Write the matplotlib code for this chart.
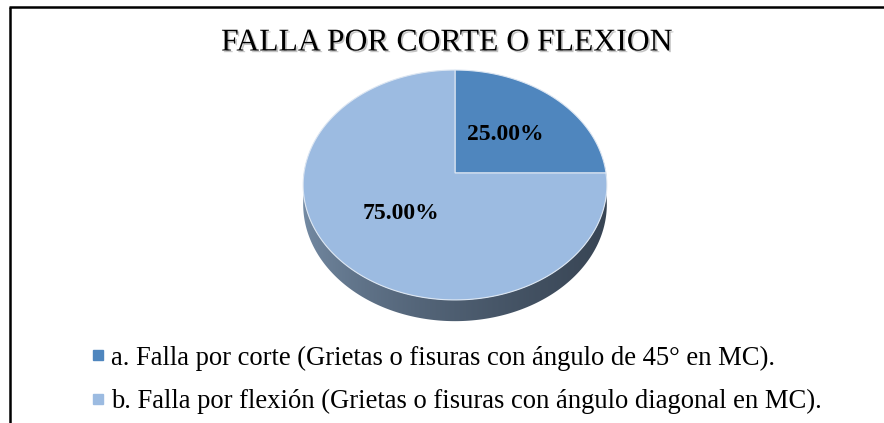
import numpy as np
import matplotlib
matplotlib.use("Agg")
import matplotlib.pyplot as plt
import matplotlib.patheffects as pe
from matplotlib.patches import Polygon
from matplotlib.lines import Line2D

# chart data
title = "FALLA POR CORTE O FLEXION"
categories = [
    "a. Falla por corte (Grietas o fisuras con ángulo de 45° en MC).",
    "b. Falla por flexión (Grietas o fisuras con ángulo diagonal en MC).",
]
values = [25.0, 75.0]
slice_colors = ["#4f86be", "#9cbbe1"]

# pie geometry (pixel space), simple perspective tilt
cx, cy = 455.0, 173.0
rx, ry = 151.0, 113.7
k = 0.1043
depth = 19.0


def project(u, v):
    w = 1 + k * v
    return cx + rx * u / w, cy - ry * v / w


fig = plt.figure(figsize=(8.84, 4.23), dpi=100)
ax = fig.add_axes([0, 0, 1, 1])
ax.set_xlim(0, 884)
ax.set_ylim(423, 0)
ax.axis("off")

# chart frame (only top and left edges are visible)
ax.plot([10, 10], [430, 7], color="black", lw=1.8, solid_capstyle="butt")
ax.plot([9, 890], [7, 7], color="black", lw=1.8, solid_capstyle="butt")

# side wall: one polygon filled with a left-to-right gradient
ts = np.radians(np.linspace(172, 368, 300))
top_rim = [project(np.cos(t), np.sin(t)) for t in ts]
bot_rim = [(x, y + depth / (1 + k * np.sin(t))) for (x, y), t in zip(top_rim, ts)]
wall = Polygon(top_rim + bot_rim[::-1], closed=True, facecolor="none", edgecolor="none")
ax.add_patch(wall)
light = np.array([0.47, 0.56, 0.66])
dark = np.array([0.22, 0.27, 0.33])
f = np.linspace(0, 1, 256) ** 0.6
grad = (light[None, :] * (1 - f[:, None]) + dark[None, :] * f[:, None])[None, :, :]
im = ax.imshow(grad, extent=(cx - rx - 3, cx + rx + 3, 330, 160), aspect="auto",
               interpolation="bilinear", zorder=2)
im.set_clip_path(wall)
ax.set_xlim(0, 884)
ax.set_ylim(423, 0)

# top face slices, starting at 12 o'clock, going clockwise
total = sum(values)
start = 90.0
for val, col in zip(values, slice_colors):
    sweep = 360.0 * val / total
    th = np.radians(np.linspace(start, start - sweep, 200))
    pts = [project(0, 0)] + [project(np.cos(a), np.sin(a)) for a in th]
    ax.add_patch(Polygon(pts, closed=True, facecolor=col, edgecolor="#dce6f2",
                         lw=0.8, zorder=3))
    mid = np.radians(start - sweep / 2)
    lx, ly = project(0.49 * np.cos(mid), 0.49 * np.sin(mid))
    ax.text(lx, ly, f"{val / total * 100:.2f}%", ha="center", va="center",
            fontsize=17, fontweight="bold", family="Liberation Serif", zorder=5)
    start -= sweep

# title with soft shadow
ax.text(446, 43, title, ha="center", va="center", fontsize=22.8,
        family="Liberation Serif", zorder=5,
        path_effects=[pe.SimplePatchShadow(offset=(1.2, -1.2), shadow_rgbFace="#888888", alpha=0.5),
                      pe.Normal()])

# legend
handles = [Line2D([], [], marker="s", color=c, linestyle="none", markersize=7.5) for c in slice_colors]
leg = ax.legend(handles, categories, loc="upper left", bbox_to_anchor=(79 / 884, 1 - 335 / 423),
                frameon=False, handlelength=0.6, handletextpad=0.19, labelspacing=0.68,
                borderaxespad=0, prop={"family": "Liberation Serif", "size": 19.2})

fig.savefig("out.png", dpi=100)
